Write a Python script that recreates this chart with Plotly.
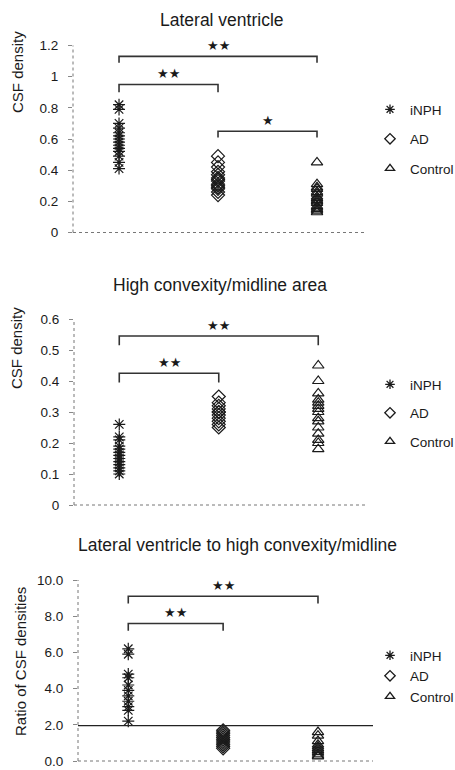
import plotly.graph_objects as go

W, H = 455, 770

groups = ["iNPH", "AD", "Control"]

# Panel 1: Lateral ventricle (CSF density)
lv_inph = [0.82, 0.79, 0.70, 0.67, 0.64, 0.62, 0.60, 0.58, 0.56, 0.54, 0.52, 0.49, 0.45, 0.41]
lv_ad = [0.49, 0.45, 0.42, 0.39, 0.37, 0.35, 0.34, 0.33, 0.31, 0.30, 0.29, 0.28, 0.26, 0.24]
lv_ctrl = [0.45, 0.31, 0.29, 0.28, 0.26, 0.25, 0.23, 0.22, 0.21, 0.20, 0.19, 0.17, 0.16, 0.15, 0.14, 0.13]

# Panel 2: High convexity/midline area (CSF density)
hc_inph = [0.26, 0.22, 0.21, 0.19, 0.18, 0.17, 0.16, 0.15, 0.14, 0.13, 0.12, 0.11, 0.10]
hc_ad = [0.35, 0.33, 0.32, 0.31, 0.30, 0.30, 0.29, 0.28, 0.27, 0.26, 0.25]
hc_ctrl = [0.45, 0.40, 0.36, 0.34, 0.33, 0.32, 0.31, 0.30, 0.28, 0.27, 0.25, 0.23, 0.21, 0.20, 0.18]

# Panel 3: Ratio of CSF densities
ra_inph = [6.2, 5.9, 4.8, 4.6, 4.2, 3.9, 3.6, 3.3, 3.0, 2.8, 2.2]
ra_ad = [1.7, 1.6, 1.5, 1.4, 1.3, 1.2, 1.1, 1.0, 0.9, 0.8, 0.7]
ra_ctrl = [1.6, 1.4, 1.1, 0.9, 0.8, 0.7, 0.6, 0.5, 0.4, 0.3, 0.25]
ratio_cutoff = 1.95

titles = ["Lateral ventricle", "High convexity/midline area",
          "Lateral ventricle to high convexity/midline"]
ytitles = ["CSF density", "CSF density", "Ratio of CSF densities"]

# Significance brackets: (group_from, group_to, bar level, drop level, label)
brackets1 = [(0, 2, 1.13, 1.09, "★★"), (0, 1, 0.95, 0.90, "★★"), (1, 2, 0.65, 0.61, "★")]
brackets2 = [(0, 2, 0.545, 0.515, "★★"), (0, 1, 0.425, 0.395, "★★")]
brackets3 = [(0, 2, 9.1, 8.7, "★★"), (0, 1, 7.6, 7.2, "★★")]

# Layout geometry (pixels)
panels = [
    dict(x0=73, x1=367, y0=45.5, y1=232.5, xr=[-0.465, 2.505], yr=[0, 1.2],
         tvals=[0, 0.2, 0.4, 0.6, 0.8, 1.0, 1.2],
         ttext=["0", "0.2", "0.4", "0.6", "0.8", "1", "1.2"],
         title_xy=(222, 20), ytitle_xy=(17, 72), leg_y=94, gap=9),
    dict(x0=74, x1=367, y0=319, y1=505, xr=[-0.455, 2.49], yr=[0, 0.6],
         tvals=[0, 0.1, 0.2, 0.3, 0.4, 0.5, 0.6],
         ttext=["0", "0.1", "0.2", "0.3", "0.4", "0.5", "0.6"],
         title_xy=(220, 285), ytitle_xy=(17, 348), leg_y=369, gap=8),
    dict(x0=78, x1=373, y0=580, y1=761, xr=[-0.53, 2.58], yr=[0, 10],
         tvals=[0, 2, 4, 6, 8, 10],
         ttext=["0.0", "2.0", "4.0", "6.0", "8.0", "10.0"],
         title_xy=(237, 545), ytitle_xy=(20, 662), leg_y=640, gap=0),
]

data = [(lv_inph, lv_ad, lv_ctrl), (hc_inph, hc_ad, hc_ctrl), (ra_inph, ra_ad, ra_ctrl)]
brackets = [brackets1, brackets2, brackets3]

symbols = ["asterisk-open", "diamond-open", "triangle-up-open"]
ink = "#1a1a1a"

fig = go.Figure()
layout = dict(width=W, height=H, margin=dict(l=0, r=0, t=0, b=0, autoexpand=False),
              paper_bgcolor="white", plot_bgcolor="white", showlegend=True,
              font=dict(family="Liberation Sans, Arial, sans-serif", color=ink),
              shapes=[], annotations=[])

for i, (p, vals, brs) in enumerate(zip(panels, data, brackets)):
    n = "" if i == 0 else str(i + 1)
    xa, ya = "x" + n, "y" + n
    leg = "legend" + n
    for g, (name, v) in enumerate(zip(groups, vals)):
        fig.add_trace(go.Scatter(
            x=[g] * len(v), y=v, mode="markers", name=name,
            xaxis=xa, yaxis=ya, showlegend=False, legendgroup=f"{i}{name}",
            cliponaxis=False,
            marker=dict(symbol=symbols[g], size=10, color=ink,
                        line=dict(color=ink, width=1.2))))
        # legend entry (smaller key symbol, as in the original legend)
        fig.add_trace(go.Scatter(
            x=[None], y=[None], mode="markers", name=name,
            xaxis=xa, yaxis=ya, legend=leg, legendgroup=f"{i}{name}",
            marker=dict(symbol=symbols[g], size=8, color=ink,
                        line=dict(color=ink, width=1.3))))
    layout["xaxis" + n] = dict(
        domain=[p["x0"] / W, p["x1"] / W], range=p["xr"], anchor=ya,
        showticklabels=False, ticks="", showgrid=False, zeroline=False, showline=False)
    layout["yaxis" + n] = dict(
        domain=[1 - p["y1"] / H, 1 - p["y0"] / H], range=p["yr"], anchor=xa,
        tickvals=p["tvals"], ticktext=p["ttext"], ticks="outside", ticklen=4,
        tickcolor="#888", tickwidth=1, showgrid=False, zeroline=False, showline=False,
        tickfont=dict(size=13.5, color=ink), ticklabelstandoff=7,
        ticklabeloverflow="allow")
    # dotted axis lines
    layout["shapes"].append(dict(type="line", xref=xa + " domain", yref=ya + " domain",
                                 x0=0, x1=0, y0=0, y1=1,
                                 line=dict(color="#777", width=1, dash="dot")))
    layout["shapes"].append(dict(type="line", xref=xa + " domain", yref=ya + " domain",
                                 x0=0, x1=1, y0=0, y1=0,
                                 line=dict(color="#777", width=1, dash="dot")))
    # brackets
    for (a, b, lev, drop, lab) in brs:
        layout["shapes"].append(dict(type="path", xref=xa, yref=ya,
                                     path=f"M {a},{drop} L {a},{lev} L {b},{lev} L {b},{drop}",
                                     line=dict(color="#333", width=1.6)))
        layout["annotations"].append(dict(xref=xa, yref=ya, x=(a + b) / 2, y=lev,
                                          yanchor="bottom", text=lab, showarrow=False,
                                          yshift=1, font=dict(size=13, color=ink,
                                                              family="DejaVu Sans")))
    # titles
    tx, ty = p["title_xy"]
    layout["annotations"].append(dict(xref="paper", yref="paper", x=tx / W, y=1 - ty / H,
                                      xanchor="center", yanchor="middle", text=titles[i],
                                      showarrow=False, font=dict(size=17.5, color=ink)))
    yx, yy = p["ytitle_xy"]
    layout["annotations"].append(dict(xref="paper", yref="paper", x=yx / W, y=1 - yy / H,
                                      xanchor="center", yanchor="middle", text=ytitles[i],
                                      textangle=-90, showarrow=False,
                                      font=dict(size=15, color=ink)))
    layout[leg] = dict(x=370 / W, xanchor="left", y=1 - p["leg_y"] / H,
                       yanchor="top", bgcolor="rgba(0,0,0,0)",
                       font=dict(size=13.5, color=ink), tracegroupgap=p["gap"],
                       itemsizing="trace")

layout["shapes"].append(dict(type="line", xref="x3 domain", yref="y3",
                             x0=0, x1=1, y0=ratio_cutoff, y1=ratio_cutoff,
                             line=dict(color="#222", width=1.3)))

fig.update_layout(**layout)
fig.write_html("out.html")
